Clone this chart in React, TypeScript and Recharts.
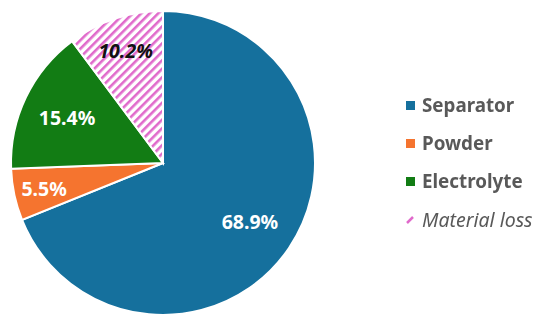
// Material breakdown pie — four slices, hatched "Material loss", legend on the right.

import { Cell, Legend, Pie, PieChart } from 'recharts';

const categories = ['Separator', 'Powder', 'Electrolyte', 'Material loss'];
const shares = [68.9, 5.5, 15.4, 10.2];

const data = categories.map((name, i) => ({ name, value: shares[i] }));

const COLORS = ['#15709D', '#F5742F', '#127C14', 'url(#hatch)'];
const SWATCH = ['#15709D', '#F5742F', '#127C14', '#E06ACB'];
// label distance from centre as a fraction of the radius, per slice
const LABEL_R = [0.69, 0.8, 0.7, 0.78];

const RAD = Math.PI / 180;

function renderLabel(props: any) {
  const { cx, cy, midAngle, outerRadius, index, value } = props;
  const r = outerRadius * LABEL_R[index];
  const x = cx + r * Math.cos(-midAngle * RAD);
  const y = cy + r * Math.sin(-midAngle * RAD);
  const isLoss = index === 3;
  return (
    <text
      x={x}
      y={y}
      textAnchor="middle"
      dominantBaseline="central"
      fill={isLoss ? '#111' : '#fff'}
      fontSize={19.5}
      fontWeight={700}
      fontStyle={isLoss ? 'italic' : 'normal'}
      fontFamily="'Noto Sans', sans-serif"
    >
      {`${value.toFixed(1)}%`}
    </text>
  );
}

function LegendBox() {
  return (
    <div style={{ fontFamily: "'Noto Sans', sans-serif", color: '#595959' }}>
      {categories.map((name, i) => {
        const isLoss = i === 3;
        return (
          <div key={name} style={{ display: 'flex', alignItems: 'center', height: 38 }}>
            {isLoss ? (
              <svg width={10} height={10} style={{ marginRight: 6 }}>
                <line x1={1} y1={9} x2={7} y2={3} stroke={SWATCH[i]} strokeWidth={2.5} />
              </svg>
            ) : (
              <span style={{ width: 9, height: 9, background: SWATCH[i], marginRight: 7, display: 'inline-block' }} />
            )}
            <span
              style={{
                fontSize: isLoss ? 19.5 : 18.8,
                fontWeight: isLoss ? 400 : 700,
                fontStyle: isLoss ? 'italic' : 'normal',
              }}
            >
              {name}
            </span>
          </div>
        );
      })}
    </div>
  );
}

export default function App() {
  return (
    <div style={{ position: 'fixed', left: 0, top: 0, width: 550, height: 321, background: '#fff' }}>
      <PieChart width={550} height={321} margin={{ top: 0, right: 0, bottom: 0, left: 0 }}>
        <defs>
          <pattern id="hatch" width={6} height={6} patternUnits="userSpaceOnUse" patternTransform="rotate(45)">
            <rect width={6} height={6} fill="#fff" />
            <rect width={2.6} height={6} fill="#E06ACB" />
          </pattern>
        </defs>
        <Pie
          data={data}
          dataKey="value"
          nameKey="name"
          cx={163}
          cy={163}
          outerRadius={152}
          startAngle={90}
          endAngle={-270}
          stroke="#fff"
          strokeWidth={2}
          label={renderLabel}
          labelLine={false}
          isAnimationActive={false}
        >
          {data.map((d, i) => (
            <Cell key={d.name} fill={COLORS[i]} />
          ))}
        </Pie>
        <Legend
          content={<LegendBox />}
          wrapperStyle={{ position: 'absolute', left: 406, top: 86, width: 150 }}
        />
      </PieChart>
    </div>
  );
}
